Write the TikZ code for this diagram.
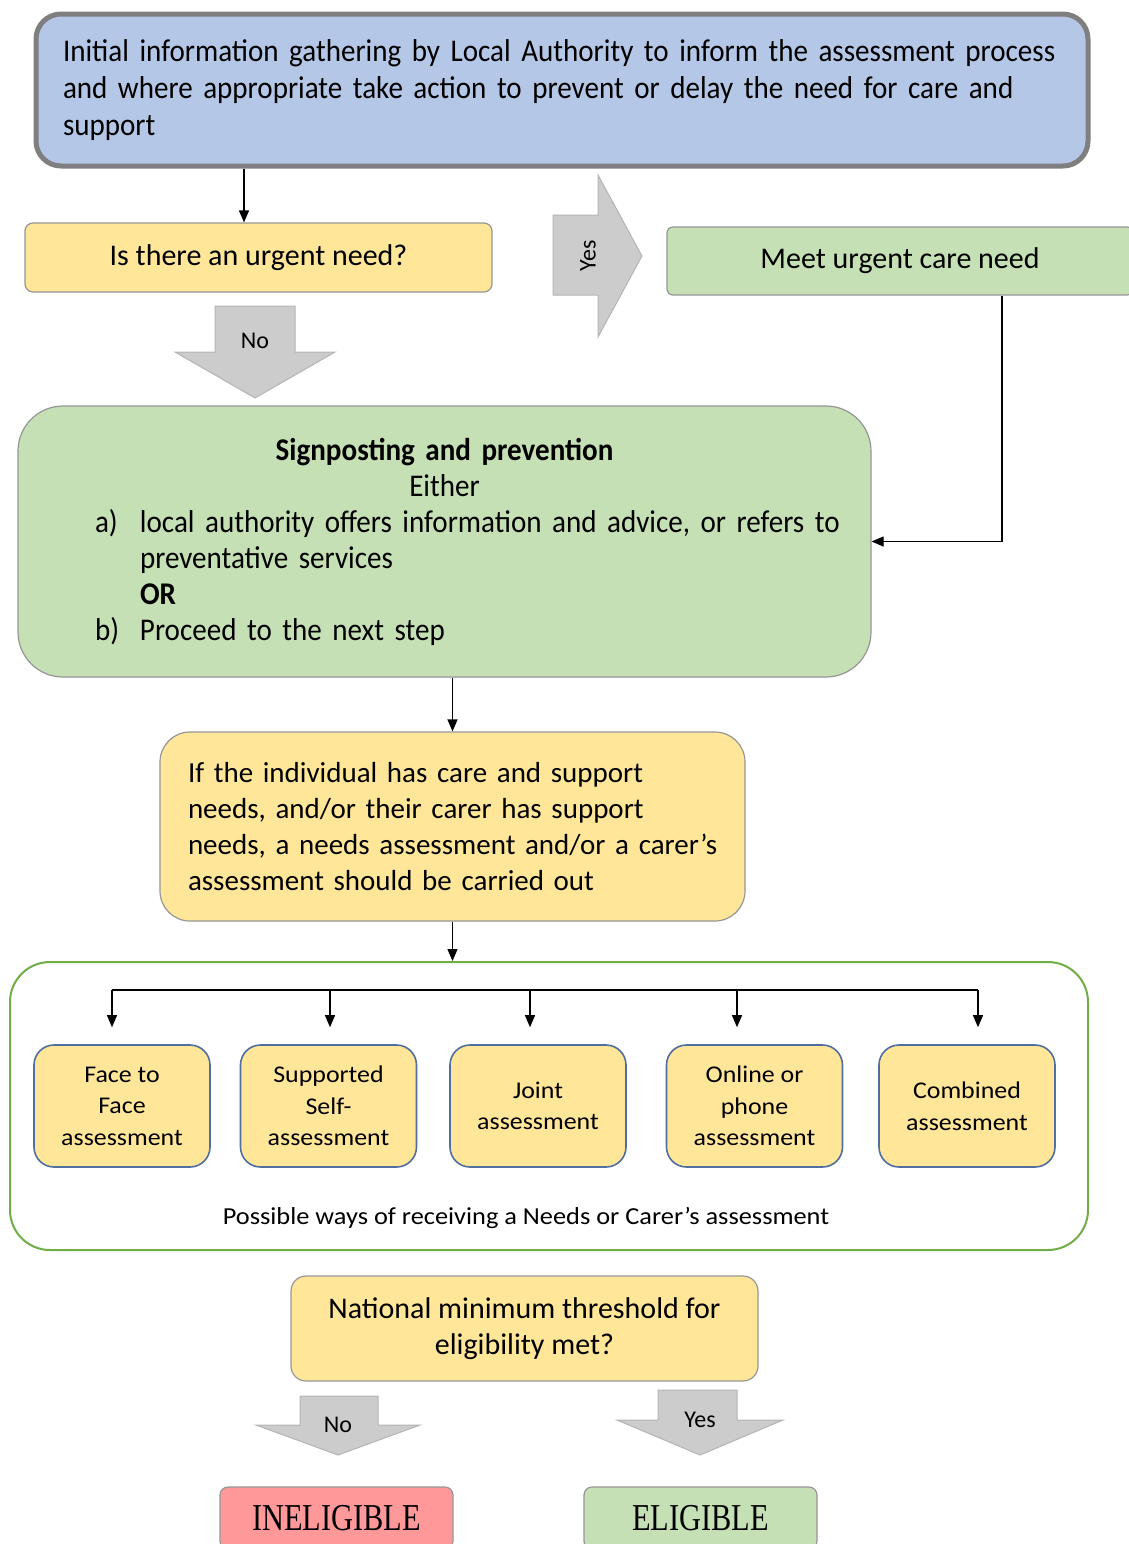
\documentclass[tikz,border=0pt]{standalone}
\usepackage{fontspec}
\setmainfont{Carlito}
\newfontfamily\narrowfont[FakeStretch=0.92, WordSpace=0.65]{Carlito}
\newfontfamily\wideish[FakeStretch=1.08]{Carlito}
\newfontfamily\serifnarrow[FakeStretch=0.8]{Liberation Serif}
\usetikzlibrary{arrows.meta,calc}
\definecolor{boxblue}{RGB}{180,199,231}
\definecolor{boxyellow}{RGB}{255,230,153}
\definecolor{boxgreen}{RGB}{197,224,180}
\definecolor{boxred}{RGB}{255,153,153}
\definecolor{topedge}{RGB}{127,127,127}
\definecolor{edgegray}{RGB}{150,150,150}
\definecolor{smalledge}{RGB}{80,110,160}
\definecolor{contgreen}{RGB}{112,173,71}
\definecolor{blockfill}{RGB}{204,204,204}
\definecolor{blockedge}{RGB}{180,180,180}
\tikzset{
  flowbox/.style={rectangle, rounded corners=#1, draw=edgegray, line width=0.6pt, inner sep=0pt, align=center},
  arr/.style={-{Triangle[width=5pt,length=6pt]}, line width=0.6pt},
  blockarrow/.style={fill=blockfill, draw=blockedge, line width=0.5pt},
  blocklabel/.style={font=\fontsize{12}{14}\selectfont, inner sep=0pt},
  smallbox/.style={flowbox=10pt, draw=smalledge, line width=0.8pt, fill=boxyellow, minimum width=88pt, minimum height=61pt, font=\wideish\fontsize{12}{15.75}\selectfont},
}
\begin{document}
\begin{tikzpicture}[x=0.5pt, y=-0.5pt]
\useasboundingbox (0,0) rectangle (1129,1544);

% top box
\node[flowbox=12.5pt, draw=topedge, line width=2.5pt, fill=boxblue, minimum width=526pt, minimum height=76pt,
      text width=499pt, align=left, font=\narrowfont\fontsize{15.8}{18.5}\selectfont] (top) at (562,90)
  {\mbox{Initial information gathering by Local Authority to inform the assessment process}\\
   \mbox{and where appropriate take action to prevent or delay the need for care and}\\
   support};

% urgent question
\node[flowbox=4pt, fill=boxyellow, minimum width=233.5pt, minimum height=34.5pt,
      font=\fontsize{15}{18}\selectfont] (urgent) at (258.5,257.5) {Is there an urgent need?};

% meet urgent care need
\node[flowbox=3pt, fill=boxgreen, minimum width=233pt, minimum height=34pt,
      font=\fontsize{15}{18}\selectfont] (meet) at (900,261) {Meet urgent care need};

% signposting
\node[flowbox=22.5pt, fill=boxgreen, minimum width=426.5pt, minimum height=135.5pt,
      text width=349.5pt, align=left, font=\narrowfont\fontsize{15.8}{18}\selectfont] (sign) at (444.5,541.5)
  {{\centering\textbf{Signposting and prevention}\\Either\par}
   \makebox[22.5pt][l]{a)}\mbox{local authority offers information and advice, or refers to}\\
   \hspace*{22.5pt}preventative services\\
   \hspace*{22.5pt}\textbf{OR}\\
   \makebox[22.5pt][l]{b)}Proceed to the next step};

% middle box
\node[flowbox=15pt, fill=boxyellow, minimum width=292.5pt, minimum height=94.5pt,
      text width=264.5pt, align=left, font=\fontsize{14.5}{18}\selectfont] (mid) at (452.5,826.5)
  {\mbox{If the individual has care and support}\\
   \mbox{needs, and/or their carer has support}\\
   \mbox{needs, a needs assessment and/or a carer’s}\\
   \mbox{assessment should be carried out}};

% container
\node[flowbox=20pt, draw=contgreen, line width=1pt, fill=white, minimum width=539pt, minimum height=144pt] (cont) at (549,1106) {};

% five assessment boxes
\node[smallbox] (f1) at (122,1106) {Face to\\Face\\assessment};
\node[smallbox] (f2) at (328.5,1106) {Supported\\Self-\\assessment};
\node[smallbox] (f3) at (538,1106) {Joint\\assessment};
\node[smallbox] (f4) at (754.5,1106) {Online or\\phone\\assessment};
\node[smallbox] (f5) at (967,1106) {Combined\\assessment};

\node[font=\wideish\fontsize{12.2}{14}\selectfont, inner sep=0pt] (cap) at (526,1218) {Possible ways of receiving a Needs or Carer’s assessment};

% threshold
\node[flowbox=7.5pt, fill=boxyellow, minimum width=233.5pt, minimum height=52.5pt,
      font=\fontsize{15}{18}\selectfont] (thr) at (524.5,1328.5) {National minimum threshold for\\eligibility met?};

% outcomes
\node[flowbox=4pt, fill=boxred, minimum width=116.5pt, minimum height=31pt,
      font=\serifnarrow\fontsize{19}{20}\selectfont] (inel) at (336.5,1518) {INELIGIBLE};
\node[flowbox=4pt, fill=boxgreen, minimum width=116.5pt, minimum height=31pt,
      font=\serifnarrow\fontsize{19}{20}\selectfont] (elig) at (700.5,1518) {ELIGIBLE};

% connectors
\draw[arr] ([xshift=-7.25pt]urgent.north |- top.south) -- ([xshift=-7.25pt]urgent.north);
\draw[arr] ([xshift=51pt]meet.south) |- (sign.east);
\draw[arr] (sign.south -| mid.north) -- (mid.north);
\draw[arr] (mid.south) -- (mid.south |- cont.north);
\coordinate (busL) at (112,990);
\coordinate (busR) at (978,990);
\draw[line width=0.8pt] (busL) -- (busR);
\draw[arr] ([xshift=-5pt]f1.north |- busL) -- ([xshift=-5pt,yshift=8.5pt]f1.north);
\draw[arr] ([xshift=0.75pt]f2.north |- busL) -- ([xshift=0.75pt,yshift=8.5pt]f2.north);
\draw[arr] ([xshift=-4pt]f3.north |- busL) -- ([xshift=-4pt,yshift=8.5pt]f3.north);
\draw[arr] ([xshift=-8.75pt]f4.north |- busL) -- ([xshift=-8.75pt,yshift=8.5pt]f4.north);
\draw[arr] ([xshift=5.5pt]f5.north |- busL) -- ([xshift=5.5pt,yshift=8.5pt]f5.north);

% block arrows
\draw[blockarrow] (215,306) -- (295,306) -- (295,352) -- (335,352) -- (255,398) -- (175,352) -- (215,352) -- cycle;
\node[blocklabel] (nolab1) at (255,341) {No};

\draw[blockarrow] (553,215) -- (598,215) -- (598,175) -- (642,256) -- (598,337) -- (598,295) -- (553,295) -- cycle;
\node[blocklabel, rotate=90] (yeslab1) at (588,256) {Yes};

\draw[blockarrow] (300,1396) -- (378,1396) -- (378,1425) -- (420,1425) -- (338,1455) -- (256,1425) -- (300,1425) -- cycle;
\node[blocklabel] (nolab2) at (338,1425) {No};

\draw[blockarrow] (658,1390) -- (737,1390) -- (737,1420) -- (783,1420) -- (700,1455) -- (617,1420) -- (658,1420) -- cycle;
\node[blocklabel] (yeslab2) at (700,1420) {Yes};

\end{tikzpicture}
\end{document}
